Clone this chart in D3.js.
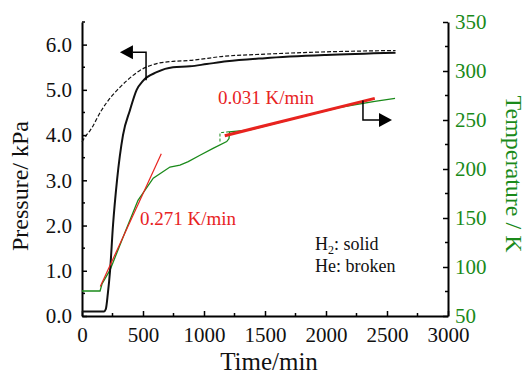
<!DOCTYPE html>
<html>
<head>
<meta charset="utf-8">
<script src="https://cdn.jsdelivr.net/npm/d3@7"></script>
</head>
<body style="margin:0">
<script>
// Pressure / temperature vs time, dual axis
const W = 526, H = 374;
const margin = { left: 82, right: 78, top: 22, bottom: 58 };

// pressure, solid (kPa)
const pSolidT = [0, 180, 195, 212, 230, 254, 287, 336, 393, 448, 500, 612, 746, 885, 1022, 1186, 1500, 2000, 2570];
const pSolidV = [0.1, 0.1, 0.15, 0.5, 1.0, 2.0, 3.0, 4.0, 4.55, 5.0, 5.2, 5.39, 5.5, 5.52, 5.57, 5.63, 5.7, 5.77, 5.82];
// pressure, broken (kPa)
const pDashT = [0, 30, 66, 160, 240, 290, 366, 475, 612, 746, 885, 1156, 1500, 2000, 2570];
const pDashV = [3.85, 3.98, 4.1, 4.55, 4.85, 5.0, 5.2, 5.43, 5.58, 5.63, 5.65, 5.74, 5.79, 5.84, 5.87];
// temperature (K)
const tempT = [0, 148, 165, 230, 361, 459, 584, 721, 803, 871, 967, 1074, 1186, 1205, 1210, 1377, 1787, 2115, 2400, 2566];
const tempV = [75.5, 75.5, 83, 97, 138, 168, 190.6, 202, 204, 207.5, 214, 221, 228, 231, 238, 240, 253, 263, 269, 272];
const tempDashT = [1131, 1131, 1205];
const tempDashV = [228, 237, 238];
// fitted slopes
const fit1T = [150, 650], fit1V = [80, 215.5];
const fit2T = [1170, 2400], fit2V = [234, 272.1];

const xTicks = [0, 500, 1000, 1500, 2000, 2500, 3000];
const pTicks = [0, 1, 2, 3, 4, 5, 6];
const tTicks = [50, 100, 150, 200, 250, 300, 350];

const green = "#1a8a1a", red = "#e8231f";
const FONT = '"Liberation Serif"';

const svg = d3.select("body").append("svg").attr("width", W).attr("height", H);

const x = d3.scaleLinear().domain([0, 3000]).range([margin.left, W - margin.right]);
const yP = d3.scaleLinear().domain([0, 6.5]).range([H - margin.bottom, margin.top]);
const yT = d3.scaleLinear().domain([50, 350]).range([H - margin.bottom, margin.top]);

const zip = (a, b) => a.map((v, i) => [v, b[i]]);
const lineP = d3.line().x(d => x(d[0])).y(d => yP(d[1])).curve(d3.curveMonotoneX);
const lineT = d3.line().x(d => x(d[0])).y(d => yT(d[1]));

// minor ticks
function minor(axisG, vals, fn) {
  vals.forEach(v => fn(axisG.append("line"), v));
}

// bottom axis
const gx = svg.append("g").attr("transform", `translate(0,${H - margin.bottom})`);
gx.call(d3.axisBottom(x).tickValues(xTicks).tickSizeInner(-5).tickSizeOuter(0).tickFormat(d3.format("d")));
minor(gx, d3.range(250, 3000, 500), (l, v) => l.attr("x1", x(v)).attr("x2", x(v)).attr("y1", 0).attr("y2", -3));

// left axis
const gl = svg.append("g").attr("transform", `translate(${margin.left},0)`);
gl.call(d3.axisLeft(yP).tickValues(pTicks).tickSizeInner(-5).tickSizeOuter(0).tickFormat(d3.format(".1f")));
minor(gl, d3.range(0.5, 6.6, 1), (l, v) => l.attr("x1", 0).attr("x2", 3).attr("y1", yP(v)).attr("y2", yP(v)));

// right axis
const gr = svg.append("g").attr("transform", `translate(${W - margin.right},0)`);
gr.call(d3.axisRight(yT).tickValues(tTicks).tickSizeInner(-5).tickSizeOuter(0));
minor(gr, d3.range(75, 350, 50), (l, v) => l.attr("x1", 0).attr("x2", -3).attr("y1", yT(v)).attr("y2", yT(v)));

[gx, gl, gr].forEach(g => {
  g.attr("font-family", null).attr("font-size", null);
  g.select(".domain").attr("stroke", "#000").attr("stroke-width", 2);
  g.selectAll("line").attr("stroke", "#000").attr("stroke-width", 1.5);
  g.selectAll("text").style("font-family", FONT).attr("font-size", 21).attr("fill", "#111");
});
gx.selectAll(".tick text").attr("dy", null).attr("y", 26);
gl.selectAll(".tick text").attr("x", -10);
gr.selectAll(".tick text").attr("x", 7).attr("fill", green);

function label(attrs, str) {
  const t = svg.append("text").style("font-family", FONT);
  for (const k in attrs) t.attr(k, attrs[k]);
  if (str) t.text(str);
  return t;
}

// axis titles
label({ transform: "translate(28,186) rotate(-90)", "text-anchor": "middle", "font-size": 24, fill: "#111" }, "Pressure/ kPa");
label({ transform: "translate(506,174) rotate(90)", "text-anchor": "middle", "font-size": 24, fill: green }, "Temperature / K");
label({ x: 269, y: 370, "text-anchor": "middle", "font-size": 25, fill: "#111" }, "Time/min");

// series
svg.append("path").datum(zip(pDashT, pDashV)).attr("d", lineP)
  .attr("fill", "none").attr("stroke", "#111").attr("stroke-width", 1.2).attr("stroke-dasharray", "4,2");
svg.append("path").datum(zip(tempT, tempV)).attr("d", lineT)
  .attr("fill", "none").attr("stroke", green).attr("stroke-width", 1.3);
svg.append("path").datum(zip(tempDashT, tempDashV)).attr("d", lineT)
  .attr("fill", "none").attr("stroke", green).attr("stroke-width", 1).attr("stroke-dasharray", "3,2");
svg.append("path").datum(zip(pSolidT, pSolidV)).attr("d", lineP)
  .attr("fill", "none").attr("stroke", "#111").attr("stroke-width", 2);
svg.append("path").datum(zip(fit1T, fit1V)).attr("d", lineT)
  .attr("fill", "none").attr("stroke", red).attr("stroke-width", 1.2);
svg.append("path").datum(zip(fit2T, fit2V)).attr("d", lineT)
  .attr("fill", "none").attr("stroke", red).attr("stroke-width", 3);

// arrows pointing to each axis
function arrow(pts, dir) {
  const [tip] = pts.slice(-1);
  const hx = tip[0] - dir * 13;
  svg.append("path").attr("d", d3.line()([...pts.slice(0, -1), [hx, tip[1]]]))
    .attr("fill", "none").attr("stroke", "#000").attr("stroke-width", 1.5);
  svg.append("path").attr("d", `M${tip[0]},${tip[1]} L${hx},${tip[1] - 7} L${hx},${tip[1] + 7} Z`).attr("fill", "#000");
}
arrow([[x(525), yP(5.21)], [x(525), yP(5.83)], [x(311), yP(5.83)]], -1);
arrow([[x(2303), yT(270)], [x(2303), yT(250)], [x(2541), yT(250)]], 1);

// annotations
label({ x: 218, y: 104, "font-size": 19, fill: red }, "0.031 K/min");
label({ x: 140, y: 225, "font-size": 19, fill: red }, "0.271 K/min");
const h2 = label({ x: 315, y: 250, "font-size": 18, fill: "#111" });
h2.append("tspan").text("H");
h2.append("tspan").attr("font-size", 12).attr("dy", 4).text("2");
h2.append("tspan").attr("dy", -4).text(": solid");
label({ x: 315, y: 272, "font-size": 18, fill: "#111" }, "He: broken");
</script>
</body>
</html>
